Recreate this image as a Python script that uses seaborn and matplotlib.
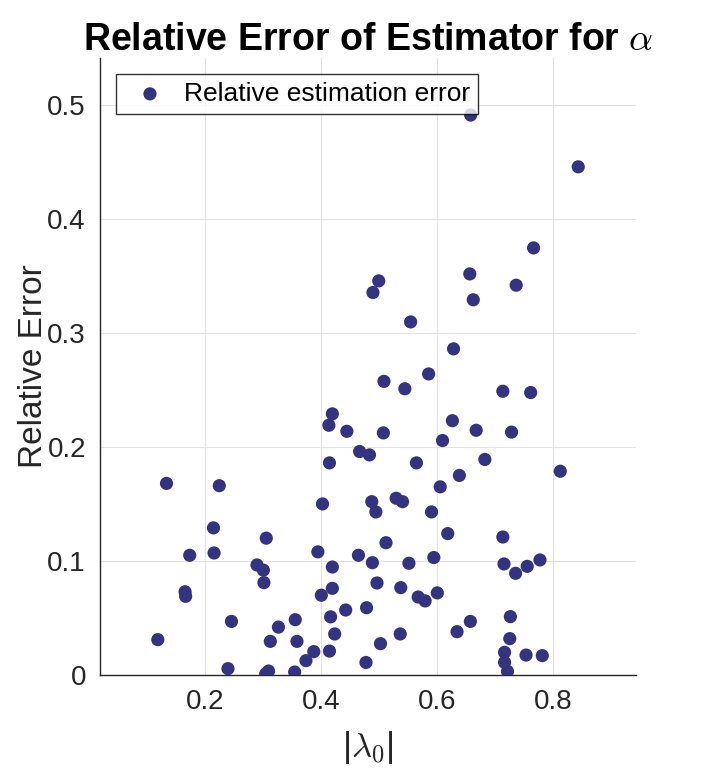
import numpy as np
import pandas as pd
import matplotlib
matplotlib.use("Agg")
import matplotlib.pyplot as plt
import seaborn as sns

# |lambda_0| values and relative errors
lam0 = [
    0.134, 0.225, 0.215, 0.306, 0.174, 0.216, 0.290, 0.301, 0.302, 0.166,
    0.167, 0.246, 0.327, 0.356, 0.119, 0.313, 0.359, 0.240, 0.310, 0.305,
    0.355,
    0.610, 0.467, 0.484, 0.415, 0.565, 0.639, 0.606, 0.403, 0.488, 0.495,
    0.530, 0.541, 0.591, 0.619, 0.395, 0.465, 0.5125, 0.420, 0.489, 0.552,
    0.595, 0.401, 0.420, 0.497, 0.538, 0.568, 0.580, 0.601, 0.417, 0.443,
    0.479, 0.424, 0.503, 0.537, 0.635, 0.658, 0.388, 0.3745, 0.415, 0.478,
    0.683, 0.813, 0.714, 0.716, 0.736, 0.756, 0.778, 0.727, 0.726, 0.717,
    0.717, 0.722, 0.754, 0.782,
    0.500, 0.490, 0.555, 0.657, 0.663, 0.629, 0.586, 0.509, 0.545, 0.420,
    0.414, 0.445, 0.508, 0.627, 0.668,
    0.767, 0.737, 0.714, 0.762, 0.729,
    0.6585, 0.844,
]
rel_err = [
    0.168, 0.166, 0.129, 0.120, 0.105, 0.107, 0.0965, 0.092, 0.081, 0.073,
    0.069, 0.047, 0.042, 0.0485, 0.031, 0.0295, 0.0295, 0.0056, 0.0035, 0.001,
    0.0026,
    0.2056, 0.196, 0.193, 0.186, 0.186, 0.175, 0.165, 0.150, 0.152, 0.143,
    0.155, 0.152, 0.143, 0.124, 0.108, 0.105, 0.116, 0.0947, 0.0985, 0.098,
    0.103, 0.070, 0.076, 0.0807, 0.0766, 0.0684, 0.065, 0.072, 0.051, 0.057,
    0.059, 0.036, 0.0275, 0.036, 0.038, 0.047, 0.0205, 0.0126, 0.021, 0.011,
    0.189, 0.1787, 0.121, 0.0974, 0.0892, 0.0953, 0.1009, 0.0512, 0.0319, 0.0199,
    0.0111, 0.0032, 0.0175, 0.017,
    0.3456, 0.3354, 0.3096, 0.3517, 0.329, 0.286, 0.264, 0.2575, 0.251, 0.229,
    0.219, 0.2137, 0.2123, 0.223, 0.2146,
    0.3745, 0.3418, 0.2488, 0.2477, 0.213,
    0.491, 0.4456,
]
xticks = [0.2, 0.4, 0.6, 0.8]
yticks = [0, 0.1, 0.2, 0.3, 0.4, 0.5]
ytick_labels = ["0", "0.1", "0.2", "0.3", "0.4", "0.5"]

df = pd.DataFrame({"lam0": lam0, "err": rel_err})

sns.set_theme(style="white")
plt.rcParams["font.family"] = ["Liberation Sans", "DejaVu Sans"]
plt.rcParams["mathtext.fontset"] = "cm"

fig = plt.figure(figsize=(7.03, 7.81), dpi=100)
ax = fig.add_axes([0.142, 0.1357, 0.763, 0.790])

sns.scatterplot(
    data=df, x="lam0", y="err", ax=ax,
    color="#333380", s=90, edgecolor="none", linewidth=0,
    label="Relative estimation error", zorder=3,
)

ax.set_xlim(min(lam0) - 0.1, max(lam0) + 0.1)
ax.set_ylim(0, max(rel_err) + 0.05)
ax.set_xticks(xticks)
ax.set_xticklabels([f"{t:.1f}" for t in xticks])
ax.set_yticks(yticks)
ax.set_yticklabels(ytick_labels)

ax.grid(True, color="#e3e3e3", linewidth=0.8)
ax.set_axisbelow(True)
sns.despine(ax=ax)
for side in ["left", "bottom"]:
    ax.spines[side].set_color("#262626")
    ax.spines[side].set_linewidth(1.0)
ax.tick_params(direction="in", length=5, width=1, colors="#262626",
               labelsize=20, pad=10)

ax.set_title(r"Relative Error of Estimator for $\alpha$",
             fontsize=27, fontweight="bold", color="black", pad=6)
ax.set_xlabel(r"|$\lambda_{\mathsf{0}}$|", fontsize=25, color="#262626", labelpad=10)
ax.set_ylabel("Relative Error", fontsize=24, color="#262626", labelpad=-1)

leg = ax.legend(loc="upper left", fontsize=19, frameon=True, fancybox=False,
                edgecolor="black", borderaxespad=0.6, handletextpad=0.3,
                borderpad=0.3, markerscale=1.0)
leg.get_frame().set_linewidth(1.0)
leg.set_zorder(10)
for txt in leg.get_texts():
    txt.set_color("black")

fig.savefig("out.png", dpi=100)
